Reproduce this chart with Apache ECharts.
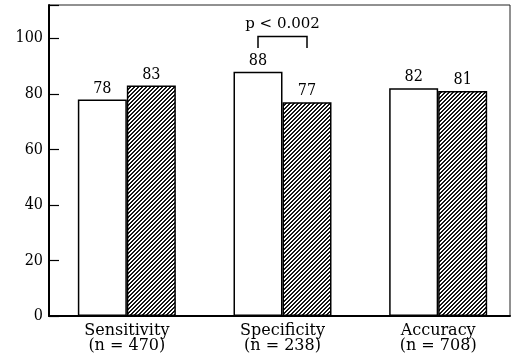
<!DOCTYPE html>
<html>
<head>
<meta charset="utf-8">
<script src="https://cdn.jsdelivr.net/npm/echarts@6/dist/echarts.min.js"></script>
<style>
  html, body { margin: 0; padding: 0; background: #fff; }
  #chart { width: 517px; height: 359px; }
</style>
</head>
<body>
<div id="chart"></div>
<script>
// Diagnostic performance by group: open bars vs hatched bars
const categories = ['Sensitivity', 'Specificity', 'Accuracy'];
const sampleSizes = [470, 238, 708];
const openValues = [78, 88, 82];
const hatchedValues = [83, 77, 81];
const yTicks = [0, 20, 40, 60, 80, 100];

// Significance bracket over the Specificity pair
const bracketCategory = 1;
const bracketTop = 100.7;
const bracketFoot = 96.5;
const bracketLabelValue = 105;
const bracketText = 'p < 0.002';

const FONT = '"DejaVu Serif", "Liberation Serif", serif';
const NUM_FONT = '"DejaVu Serif Condensed", "DejaVu Serif", serif';
const INK = '#000';
const BAR_W = 49;

// Crisp diagonal "/" hatch: pixels on every 4th anti-diagonal pair are dark
function makeHatch() {
  const s = 4;
  const c = document.createElement('canvas');
  c.width = s; c.height = s;
  const g = c.getContext('2d');
  const img = g.createImageData(s, s);
  for (let y = 0; y < s; y++) {
    for (let x = 0; x < s; x++) {
      const dark = ((x + y) % s) < 2;
      const v = dark ? 20 : 255;
      const i = (y * s + x) * 4;
      img.data[i] = v; img.data[i + 1] = v; img.data[i + 2] = v; img.data[i + 3] = 255;
    }
  }
  g.putImageData(img, 0, 0);
  return c;
}

const chart = echarts.init(document.getElementById('chart'), null, { renderer: 'canvas' });

const valueLabel = {
  show: true,
  position: 'top',
  distance: 3,
  color: INK,
  fontFamily: NUM_FONT,
  fontSize: 16
};

chart.setOption({
  animation: false,
  backgroundColor: '#fff',
  grid: [
    { left: 49, right: 1, top: 5, bottom: 43 },
    { left: 49, right: 7, top: 5, bottom: 43, show: true, borderColor: '#222', borderWidth: 1, backgroundColor: 'transparent' }
  ],
  xAxis: [
    {
      type: 'category',
      gridIndex: 0,
      data: categories,
      axisLine: { show: false },
      axisTick: { show: false },
      axisLabel: {
        margin: 7,
        color: INK,
        fontFamily: FONT,
        fontSize: 16,
        lineHeight: 15,
        formatter: (v, i) => v + '\n(n = ' + sampleSizes[i] + ')'
      }
    },
    {
      type: 'value',
      gridIndex: 1,
      min: 0, max: 1,
      axisLine: { show: true, lineStyle: { color: INK, width: 2 } },
      axisTick: { show: false },
      axisLabel: { show: false },
      splitLine: { show: false }
    }
  ],
  yAxis: [
    {
      type: 'value',
      gridIndex: 0,
      min: 0,
      max: 112,
      interval: 20,
      axisLine: { show: true, lineStyle: { color: INK, width: 2 } },
      axisTick: { show: true, inside: true, length: 10, lineStyle: { color: INK, width: 1.2 } },
      axisLabel: {
        margin: 6,
        color: INK,
        fontFamily: NUM_FONT,
        fontSize: 16,
        formatter: v => (yTicks.indexOf(v) >= 0 ? String(v) : '')
      },
      splitLine: { show: false }
    },
    {
      type: 'value',
      gridIndex: 1,
      show: false
    }
  ],
  series: [
    {
      type: 'bar',
      xAxisIndex: 0, yAxisIndex: 0,
      data: openValues,
      barWidth: BAR_W,
      barGap: '0%',
      itemStyle: { color: '#fff', borderColor: INK, borderWidth: 1.5 },
      label: valueLabel
    },
    {
      type: 'bar',
      xAxisIndex: 0, yAxisIndex: 0,
      data: hatchedValues,
      barWidth: BAR_W,
      barGap: '0%',
      itemStyle: {
        color: { image: makeHatch(), repeat: 'repeat' },
        borderColor: INK,
        borderWidth: 1.5
      },
      label: valueLabel
    },
    {
      type: 'custom',
      xAxisIndex: 0, yAxisIndex: 0,
      silent: true,
      data: [[bracketCategory, bracketTop, bracketFoot, bracketLabelValue]],
      renderItem: (params, api) => {
        const top = api.coord([api.value(0), api.value(1)]);
        const foot = api.coord([api.value(0), api.value(2)]);
        const lab = api.coord([api.value(0), api.value(3)]);
        const h = BAR_W / 2;
        return {
          type: 'group',
          children: [
            {
              type: 'polyline',
              shape: { points: [[top[0] - h, foot[1]], [top[0] - h, top[1]], [top[0] + h, top[1]], [top[0] + h, foot[1]]] },
              style: { stroke: INK, lineWidth: 1.5, fill: null }
            },
            {
              type: 'text',
              x: top[0],
              y: lab[1],
              style: {
                text: bracketText,
                fill: INK,
                font: '15px ' + FONT,
                align: 'center',
                verticalAlign: 'middle'
              }
            }
          ]
        };
      }
    }
  ]
});
</script>
</body>
</html>
